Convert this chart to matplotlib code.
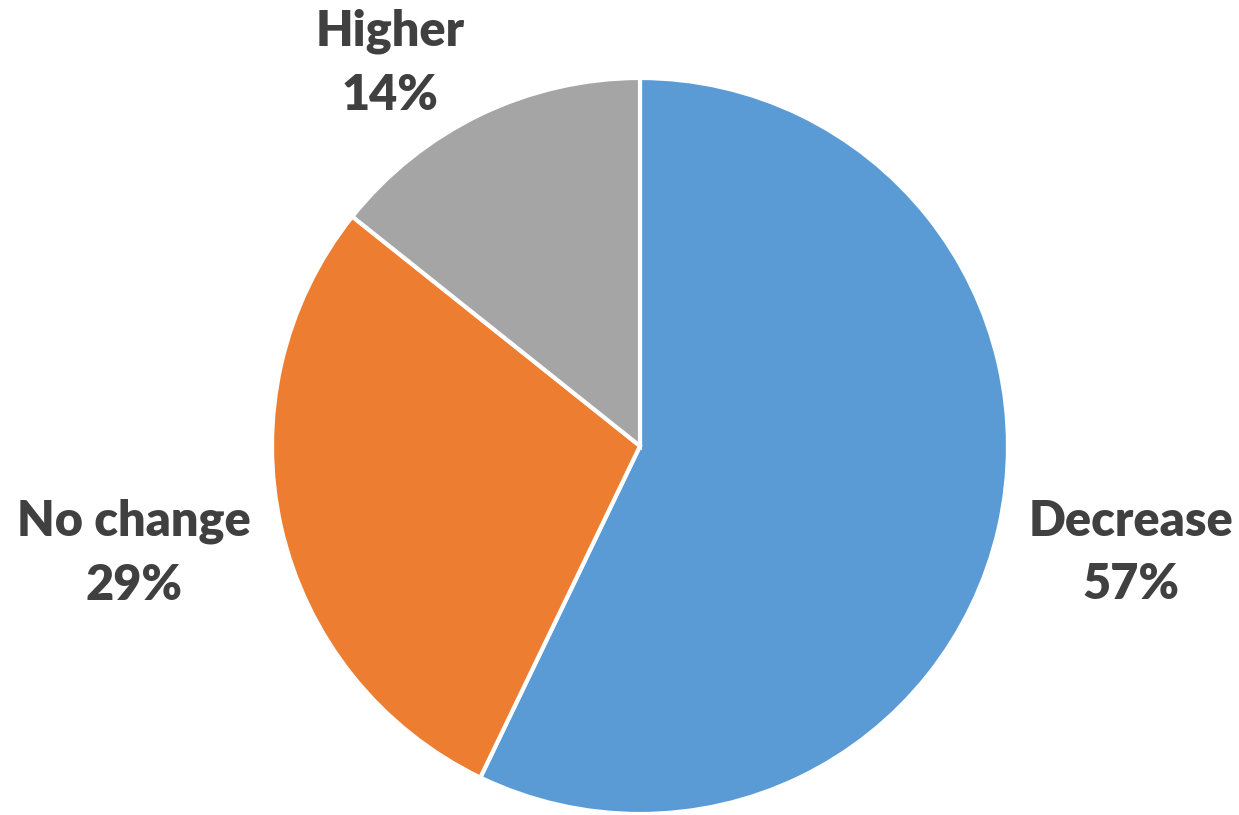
import matplotlib
matplotlib.use("Agg")
import matplotlib.pyplot as plt

categories = ["Decrease", "No change", "Higher"]
counts = [4, 2, 1]
colors = ["#5B9BD5", "#ED7D31", "#A5A5A5"]

W, H = 1239, 815
fig = plt.figure(figsize=(W / 100, H / 100), dpi=100)
ax = fig.add_axes([0, 0, 1, 1])

cx, cy, r = 640, H - 446, 368
ax.pie(counts, colors=colors, startangle=90, counterclock=False,
       center=(cx, cy), radius=r, frame=True,
       wedgeprops=dict(edgecolor="white", linewidth=3, joinstyle="miter"))
ax.set_xlim(0, W)
ax.set_ylim(0, H)
ax.set_aspect("equal")
ax.axis("off")

total = sum(counts)
label_pos = {"Decrease": (1131, H - 553), "No change": (134, H - 553), "Higher": (390, H - 63)}
for name, v in zip(categories, counts):
    x, y = label_pos[name]
    ax.text(x, y, f"{name}\n{v / total:.0%}", ha="center", va="center",
            fontsize=35, fontweight="heavy", family="Lato", color="#404040",
            linespacing=1.5)

fig.savefig("out.png", dpi=100)
